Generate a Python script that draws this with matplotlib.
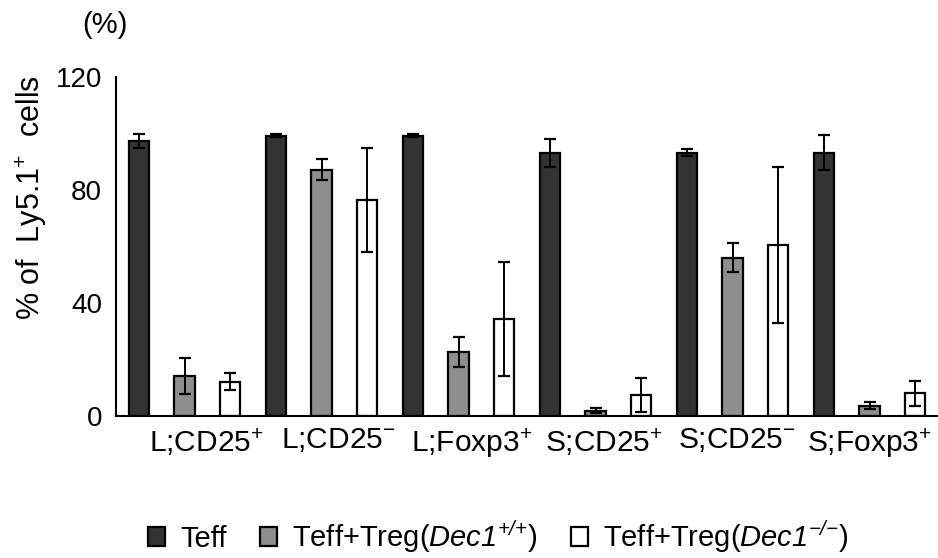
import matplotlib
matplotlib.use("Agg")
import matplotlib.pyplot as plt
import numpy as np

# Font setup (Helvetica-like)
plt.rcParams["font.family"] = ["Liberation Sans", "DejaVu Sans"]
plt.rcParams["mathtext.fontset"] = "custom"
plt.rcParams["mathtext.rm"] = "Liberation Sans"
plt.rcParams["mathtext.it"] = "Liberation Sans:italic"
plt.rcParams["mathtext.sf"] = "Liberation Sans:italic"
plt.rcParams["mathtext.default"] = "regular"

# Data
categories = ["L;CD25$^{+}$", "L;CD25$^{-}$", "L;Foxp3$^{+}$",
              "S;CD25$^{+}$", "S;CD25$^{-}$", "S;Foxp3$^{+}$"]
series_names = ["Teff",
                r"Teff+Treg($\mathsf{Dec1^{{+}/{+}}}$)",
                r"Teff+Treg($\mathsf{Dec1^{{-}/{-}}}$)"]
teff = [97.5, 99.2, 99.2, 93.2, 93.2, 93.2]
teff_err = [2.5, 0.5, 0.5, 5.0, 1.2, 6.2]
treg_wt = [14.2, 87.1, 22.7, 1.9, 56.0, 3.7]
treg_wt_err = [6.3, 3.7, 5.3, 1.0, 5.2, 1.3]
treg_ko = [12.1, 76.5, 34.3, 7.4, 60.5, 8.0]
treg_ko_err = [3.0, 18.3, 20.3, 6.0, 27.7, 4.4]
yticks = [0, 40, 80, 120]

colors = ["#333333", "#8e8e8e", "#ffffff"]

fig = plt.figure(figsize=(9.38, 5.58), dpi=100)
ax = fig.add_axes([0.1237, 0.2545, 0.8763, 0.6075])

groups = np.arange(len(categories)) * 3
values = [teff, treg_wt, treg_ko]
errors = [teff_err, treg_wt_err, treg_ko_err]
for k in range(3):
    ax.bar(groups + k, values[k], width=0.44, color=colors[k],
           edgecolor="black", linewidth=1.6, label=series_names[k],
           yerr=errors[k], capsize=4,
           error_kw=dict(ecolor="black", elinewidth=1.4, capthick=1.6))

ax.set_xlim(-0.5, 17.5)
ax.set_ylim(0, 120)
ax.set_yticks(yticks)
ax.tick_params(axis="y", length=0, pad=10, labelsize=20)

# category labels sit slightly right of the group centres
ax.set_xticks(np.linspace(1.47, 16.0, len(categories)))
ax.set_xticklabels(categories)
ax.tick_params(axis="x", length=0, pad=7, labelsize=21.5)

for side in ["top", "right"]:
    ax.spines[side].set_visible(False)
ax.spines["left"].set_linewidth(1.5)
ax.spines["bottom"].set_linewidth(1.5)

ax.set_ylabel("% of  Ly5.1$^{+}$  cells", fontsize=22)
ax.yaxis.set_label_coords(-0.082, 0.646)

fig.text(0.112, 0.955, "(%)", fontsize=21, ha="center", va="center")

fig.legend(loc="center", bbox_to_anchor=(0.531, 0.039), ncol=3, frameon=False,
           fontsize=21, handlelength=0.6, handleheight=0.6,
           handletextpad=0.5, columnspacing=1.15)

fig.savefig("out.png", dpi=100)
